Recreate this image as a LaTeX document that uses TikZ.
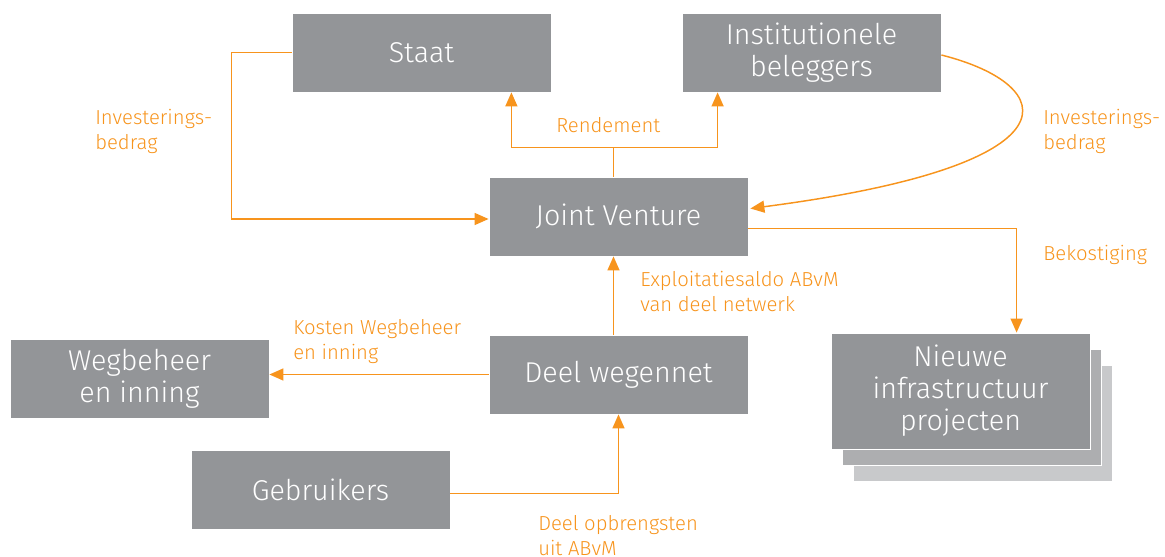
\documentclass[tikz,border=0pt]{standalone}
\usepackage{fontspec}
\setmainfont{Fira Sans Light}
\usetikzlibrary{arrows.meta,calc}
\definecolor{boxgray}{HTML}{939598}
\definecolor{midgray}{HTML}{ADAEB0}
\definecolor{lightgray}{HTML}{C8C9CB}
\definecolor{flow}{HTML}{F7941D}
\begin{document}
\begin{tikzpicture}[x=0.75pt,y=-0.75pt,
  box/.style={fill=boxgray,draw=white,line width=0.6pt,text=white,align=center,
    minimum width=194.25pt,minimum height=59.25pt,inner sep=0pt,
    font=\fontsize{21.5}{24}\selectfont},
  stackbox/.style={box,minimum height=87pt},
  flowline/.style={draw=flow,line width=1.1pt},
  arr/.style={flowline,-{Triangle[length=10.5pt,width=9pt]}},
  lbl/.style={text=flow,anchor=north west,align=left,inner sep=0pt,
    font=\fontsize{15.2}{18.75}\selectfont}]
\useasboundingbox (0,0) rectangle (1165,557);

% boxes
\node[box] (staat) at (421.5,52.5) {Staat};
\node[box] (ib) at (811.5,52.5) {Institutionele\\beleggers};
\node[box] (jv) at (618.5,216.5) {Joint Venture};
\node[box] (dw) at (618.5,374.5) {Deel wegennet};
\node[box] (wb) at (139.5,378.5) {Wegbeheer\\en inning};
\node[box] (gb) at (320.5,489.5) {Gebruikers};
\node[stackbox,fill=lightgray] (stack3) at (982.5,423) {};
\node[stackbox,fill=midgray] (stack2) at (971.5,407) {};
\node[stackbox] (nip) at (960.5,391) {Nieuwe\\infrastructuur\\projecten};

% investment from the state
\draw[arr] (staat.west) -- ++(-60,0) |- ($(jv.west)+(0,2.5)$);
% return to both investors
\draw[flowline] ($(jv.north)+(-5,0)$) -- ++(0,-29) coordinate (rj);
\draw[arr] (rj) -| ($(staat.south east)+(-40,0)$);
\draw[arr] (rj) -| ($(ib.south west)+(36,0)$);
% investment from institutional investors
\draw[arr] ($(ib.east)+(0,2.5)$) .. controls (1060,85) and (1085,165) .. ($(jv.east)+(2,-8)$);
% funding of new projects
\draw[arr] ($(jv.east)+(0,12)$) -| ($(nip.north west)+(186,0)$);
% operating balance
\draw[arr] ($(dw.north)+(-5,0)$) -- ($(jv.south)+(-5,0)$);
% road management costs
\draw[arr] (dw.west) -- (dw.west -| wb.east);
% user revenues
\draw[arr] ($(gb.east)+(0,4)$) -| (dw.south);

% labels
\node[lbl] (l1) at (95,109) {Investerings-\\bedrag};
\node[lbl] (l2) at (556,117) {Rendement};
\node[lbl] (l3) at (1043,109) {Investerings-\\bedrag};
\node[lbl] (l4) at (1043,245) {Bekostiging};
\node[lbl] (l5) at (640,271) {Exploitatiesaldo ABvM\\van deel netwerk};
\node[lbl] (l6) at (293,319) {Kosten Wegbeheer\\en inning};
\node[lbl] (l7) at (538,515) {Deel opbrengsten\\uit ABvM};
\end{tikzpicture}
\end{document}
